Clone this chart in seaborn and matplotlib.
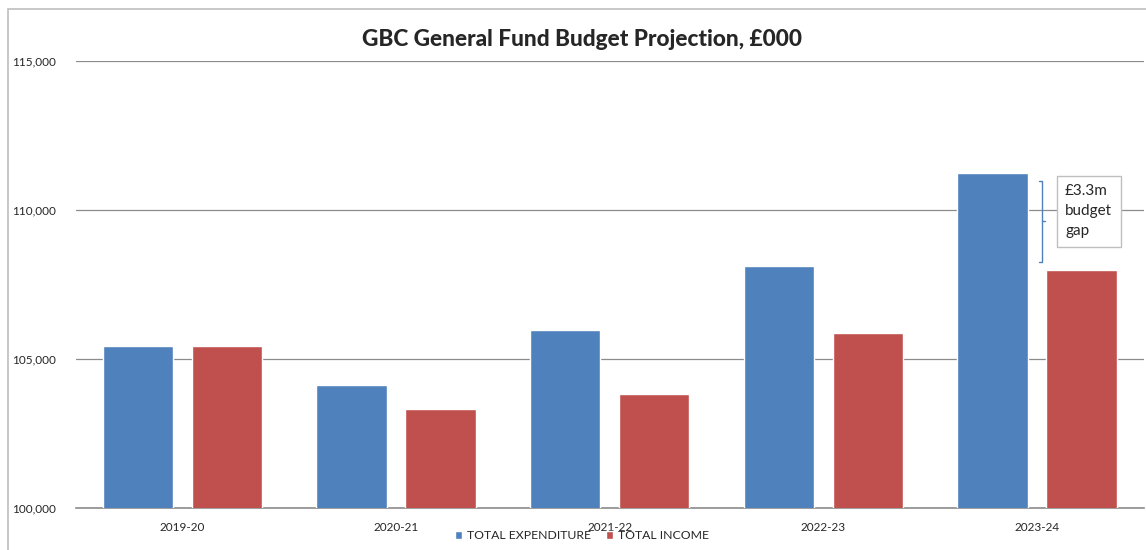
import matplotlib
matplotlib.use('Agg')
import matplotlib.pyplot as plt
import matplotlib.patches as mpatches
import seaborn as sns
import pandas as pd

years = ['2019-20', '2020-21', '2021-22', '2022-23', '2023-24']
expenditure = [105440, 104130, 105970, 108120, 111240]
income = [105440, 103320, 103830, 105870, 107990]
series_names = ['TOTAL EXPENDITURE', 'TOTAL INCOME']
y_ticks = [100000, 105000, 110000, 115000]
gap_label = '£3.3m\nbudget\ngap'

df = pd.DataFrame({
    'Year': years * 2,
    'Value': expenditure + income,
    'Series': [series_names[0]] * len(years) + [series_names[1]] * len(years),
})

sns.set_style('white')
plt.rcParams['font.family'] = ['Lato', 'DejaVu Sans']

fig = plt.figure(figsize=(11.46, 5.5), dpi=100)
ax = fig.add_axes([0.066, 0.0764, 0.932, 0.8126])

# outer chart frame
fig.patches.append(mpatches.Rectangle((0.007, -0.01), 1.0, 0.994, transform=fig.transFigure,
                                      fill=False, edgecolor='#bfbfbf', linewidth=1.2))

sns.barplot(data=df, x='Year', y='Value', hue='Series', ax=ax,
            palette=['#4F81BD', '#C0504D'], width=0.834, gap=0.21,
            saturation=1, legend=True, zorder=3)

ax.set_ylim(100000, 115000)
ax.set_yticks(y_ticks)
ax.set_yticklabels([f'{v:,}' for v in y_ticks], fontsize=8.5, ha='left')
ax.tick_params(axis='y', length=0, pad=46)
ax.tick_params(axis='x', length=0, labelsize=8.5, pad=10)
ax.set_xlim(-0.5, 4.5)
ax.yaxis.grid(True, color='#8c8c8c', linewidth=0.9, zorder=0)
ax.set_axisbelow(True)
for s in ['left', 'right', 'top']:
    ax.spines[s].set_visible(False)
ax.spines['bottom'].set_color('#8c8c8c')
ax.spines['bottom'].set_linewidth(1.2)
ax.set_xlabel('')
ax.set_ylabel('')

fig.suptitle('GBC General Fund Budget Projection, £000', fontsize=16.3, fontweight='black',
             x=0.508, y=0.948)

# budget gap bracket
top = expenditure[-1] - 250
bot = income[-1] + 250
mid = (top + bot) / 2
bx = 4 + 0.024
ax.plot([bx - 0.012, bx, bx, bx - 0.012], [top, top, bot, bot], color='#4F81BD', lw=1, zorder=5)
ax.plot([bx, bx + 0.014], [mid, mid], color='#4F81BD', lw=1, zorder=5)
ax.text(bx + 0.108, top - 120, gap_label, fontsize=11, va='top', ha='left', linespacing=1.55,
        zorder=6, bbox=dict(boxstyle='square,pad=0.55', facecolor='white', edgecolor='#bfbfbf'))

handles, labels = ax.get_legend_handles_labels()
ax.get_legend().remove()
fig.legend(handles, labels, loc='lower center', bbox_to_anchor=(0.508, -0.004), ncol=2,
           frameon=False, fontsize=8.8, handlelength=0.6, handleheight=0.6,
           handletextpad=0.4, columnspacing=1.2)

fig.savefig('out.png', dpi=100)
